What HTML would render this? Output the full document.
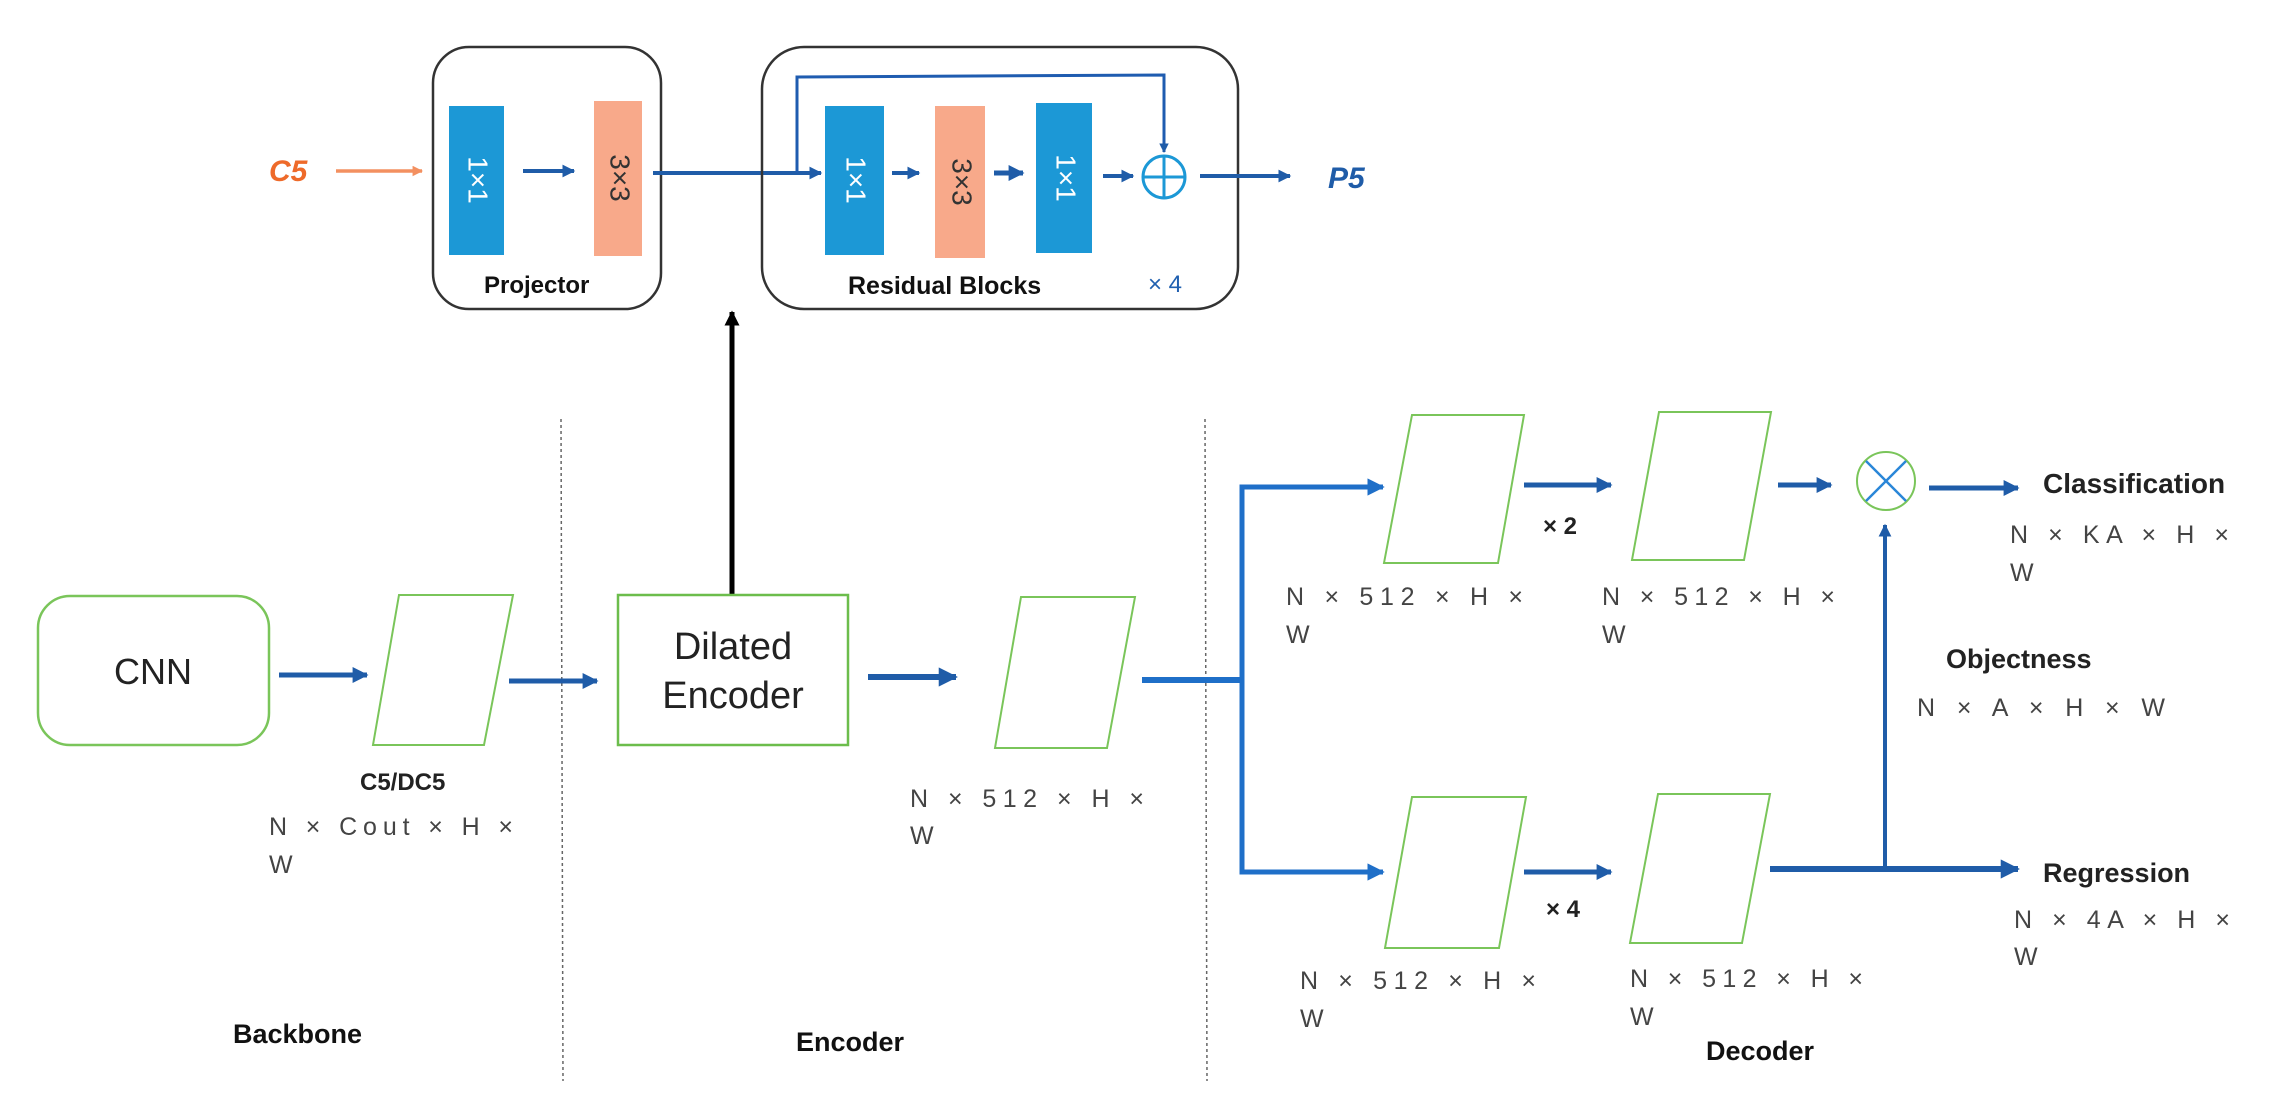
<!DOCTYPE html>
<html><head><meta charset="utf-8"><style>
html,body{margin:0;padding:0;background:#fff;}
svg{display:block;}
text{font-family:"Liberation Sans",sans-serif;}
</style></head><body>
<svg width="2274" height="1104" viewBox="0 0 2274 1104" xmlns="http://www.w3.org/2000/svg">
<defs>
<marker id="ab" viewBox="0 0 10 10" refX="9" refY="5" markerWidth="3.2" markerHeight="3.2" orient="auto" markerUnits="strokeWidth"><path d="M0,0 L10,5 L0,10 z" fill="#1f5ca8"/></marker>
<marker id="ab2" viewBox="0 0 10 10" refX="9" refY="5" markerWidth="3.5" markerHeight="3.5" orient="auto" markerUnits="strokeWidth"><path d="M0,0 L10,5 L0,10 z" fill="#1f6fc8"/></marker>
<marker id="ao" viewBox="0 0 10 10" refX="9" refY="5" markerWidth="3" markerHeight="3" orient="auto" markerUnits="strokeWidth"><path d="M0,0 L10,5 L0,10 z" fill="#f39060"/></marker>
<marker id="ak" viewBox="0 0 10 10" refX="9" refY="5" markerWidth="3" markerHeight="3" orient="auto" markerUnits="strokeWidth"><path d="M0,0 L10,5 L0,10 z" fill="#000"/></marker>
</defs>

<text x="269" y="181" font-size="30" font-weight="bold" font-style="italic" fill="#ee6a2a" font-family="Liberation Serif">C5</text>
<line x1="336" y1="171" x2="422" y2="171" stroke="#f39060" stroke-width="3.5" marker-end="url(#ao)"/>

<rect x="433" y="47" width="228" height="262" rx="36" fill="none" stroke="#333" stroke-width="2.5"/>
<rect x="449" y="106" width="55" height="149" fill="#1c98d6"/>
<text transform="translate(476,180) rotate(90)" text-anchor="middle" dominant-baseline="middle" font-size="28" fill="#fff">1×1</text>
<line x1="523" y1="171" x2="574" y2="171" stroke="#1f5ca8" stroke-width="4" marker-end="url(#ab)"/>
<rect x="594" y="101" width="48" height="155" fill="#f8a98a"/>
<text transform="translate(618,178) rotate(90)" text-anchor="middle" dominant-baseline="middle" font-size="28" fill="#333">3×3</text>
<line x1="653" y1="173" x2="821" y2="173" stroke="#1f5ca8" stroke-width="4" marker-end="url(#ab)"/>
<text x="484" y="293" font-size="24" font-weight="bold" fill="#111">Projector</text>

<rect x="762" y="47" width="476" height="262" rx="42" fill="none" stroke="#333" stroke-width="2.5"/>
<polyline points="797,173 797,77 1164,75 1164,152" fill="none" stroke="#1f5cb0" stroke-width="3" marker-end="url(#ab)"/>
<rect x="825" y="106" width="59" height="149" fill="#1c98d6"/>
<text transform="translate(854,180) rotate(90)" text-anchor="middle" dominant-baseline="middle" font-size="28" fill="#fff">1×1</text>
<line x1="892" y1="173" x2="919" y2="173" stroke="#1f5ca8" stroke-width="4" marker-end="url(#ab)"/>
<rect x="935" y="106" width="50" height="152" fill="#f8a98a"/>
<text transform="translate(960,182) rotate(90)" text-anchor="middle" dominant-baseline="middle" font-size="28" fill="#333">3×3</text>
<line x1="994" y1="173" x2="1023" y2="173" stroke="#1f5ca8" stroke-width="5" marker-end="url(#ab)"/>
<rect x="1036" y="103" width="56" height="150" fill="#1c98d6"/>
<text transform="translate(1064,178) rotate(90)" text-anchor="middle" dominant-baseline="middle" font-size="28" fill="#fff">1×1</text>
<line x1="1103" y1="176" x2="1133" y2="176" stroke="#1f5ca8" stroke-width="4" marker-end="url(#ab)"/>
<circle cx="1164" cy="177" r="21" fill="none" stroke="#1c98d6" stroke-width="3"/>
<line x1="1143" y1="177" x2="1185" y2="177" stroke="#1c98d6" stroke-width="3"/>
<line x1="1164" y1="156" x2="1164" y2="198" stroke="#1c98d6" stroke-width="3"/>
<line x1="1200" y1="176" x2="1290" y2="176" stroke="#1f5ca8" stroke-width="4" marker-end="url(#ab)"/>
<text x="1328" y="188" font-size="30" font-weight="bold" font-style="italic" fill="#1f5ca8" font-family="Liberation Serif">P5</text>
<text x="848" y="294" font-size="25" font-weight="bold" fill="#111">Residual Blocks</text>
<text x="1148" y="292" font-size="24" fill="#2060b0">× 4</text>

<line x1="732" y1="595" x2="732" y2="312" stroke="#000" stroke-width="5" marker-end="url(#ak)"/>

<line x1="561" y1="419" x2="563" y2="1081" stroke="#666" stroke-width="1.5" stroke-dasharray="3,3"/>
<line x1="1205" y1="419" x2="1207" y2="1081" stroke="#666" stroke-width="1.5" stroke-dasharray="3,3"/>

<rect x="38" y="596" width="231" height="149" rx="32" fill="none" stroke="#7ac55a" stroke-width="2.5"/>
<text x="153" y="684" text-anchor="middle" font-size="36" fill="#222">CNN</text>
<line x1="279" y1="675" x2="367" y2="675" stroke="#1f5ca8" stroke-width="5" marker-end="url(#ab)"/>
<polygon points="399,595 513,595 484,745 373,745" fill="none" stroke="#7ac55a" stroke-width="2"/>
<line x1="509" y1="681" x2="597" y2="681" stroke="#1f5ca8" stroke-width="5" marker-end="url(#ab)"/>
<text x="360" y="790" font-size="24" font-weight="bold" fill="#222">C5/DC5</text>
<text x="269" y="835" font-size="25" fill="#444" textLength="244">N × Cout × H ×</text>
<text x="269" y="873" font-size="25" fill="#444">W</text>
<text x="233" y="1043" font-size="27" font-weight="bold" fill="#111">Backbone</text>

<rect x="618" y="595" width="230" height="150" fill="none" stroke="#6cbd4c" stroke-width="2.5"/>
<text x="733" y="659" text-anchor="middle" font-size="38" fill="#222">Dilated</text>
<text x="733" y="708" text-anchor="middle" font-size="38" fill="#222">Encoder</text>
<line x1="868" y1="677" x2="956" y2="677" stroke="#1f5ca8" stroke-width="6" marker-end="url(#ab)"/>
<polygon points="1021,597 1135,597 1107,748 995,748" fill="none" stroke="#7ac55a" stroke-width="2"/>
<text x="910" y="807" font-size="25" fill="#444" textLength="234">N × 512 × H ×</text>
<text x="910" y="844" font-size="25" fill="#444">W</text>
<text x="796" y="1051" font-size="27" font-weight="bold" fill="#111">Encoder</text>

<polyline points="1142,680 1242,680" fill="none" stroke="#1f6fc8" stroke-width="6"/>
<polyline points="1383,487 1242,487 1242,872 1383,872" fill="none" stroke="#1f6fc8" stroke-width="5"/>
<line x1="1340" y1="487" x2="1383" y2="487" stroke="#1f6fc8" stroke-width="5" marker-end="url(#ab2)"/>
<line x1="1340" y1="872" x2="1383" y2="872" stroke="#1f6fc8" stroke-width="5" marker-end="url(#ab2)"/>

<polygon points="1412,415 1524,415 1498,563 1384,563" fill="none" stroke="#7ac55a" stroke-width="2"/>
<line x1="1524" y1="485" x2="1611" y2="485" stroke="#1f5ca8" stroke-width="5" marker-end="url(#ab)"/>
<text x="1543" y="534" font-size="24" font-weight="bold" fill="#222">× 2</text>
<polygon points="1659,412 1771,412 1744,560 1632,560" fill="none" stroke="#7ac55a" stroke-width="2"/>
<line x1="1778" y1="485" x2="1831" y2="485" stroke="#1f5ca8" stroke-width="5" marker-end="url(#ab)"/>
<circle cx="1886" cy="481" r="29" fill="none" stroke="#7ac55a" stroke-width="2"/>
<line x1="1866" y1="461" x2="1906" y2="501" stroke="#2a86d8" stroke-width="2.5"/>
<line x1="1906" y1="461" x2="1866" y2="501" stroke="#2a86d8" stroke-width="2.5"/>
<line x1="1929" y1="488" x2="2018" y2="488" stroke="#1f5ca8" stroke-width="5" marker-end="url(#ab)"/>
<text x="2043" y="493" font-size="28" font-weight="bold" fill="#222">Classification</text>
<text x="2010" y="543" font-size="25" fill="#444" textLength="219">N × KA × H ×</text>
<text x="2010" y="581" font-size="25" fill="#444">W</text>

<text x="1286" y="605" font-size="25" fill="#444" textLength="237">N × 512 × H ×</text>
<text x="1286" y="643" font-size="25" fill="#444">W</text>
<text x="1602" y="605" font-size="25" fill="#444" textLength="233">N × 512 × H ×</text>
<text x="1602" y="643" font-size="25" fill="#444">W</text>

<line x1="1885" y1="869" x2="1885" y2="525" stroke="#1f5ca8" stroke-width="4" marker-end="url(#ab)"/>
<text x="1946" y="668" font-size="27" font-weight="bold" fill="#222">Objectness</text>
<text x="1917" y="716" font-size="25" fill="#444" textLength="248">N × A × H × W</text>

<polygon points="1412,797 1526,797 1499,948 1385,948" fill="none" stroke="#7ac55a" stroke-width="2"/>
<line x1="1524" y1="872" x2="1611" y2="872" stroke="#1f5ca8" stroke-width="5" marker-end="url(#ab)"/>
<text x="1546" y="917" font-size="24" font-weight="bold" fill="#222">× 4</text>
<polygon points="1658,794 1770,794 1742,943 1630,943" fill="none" stroke="#7ac55a" stroke-width="2"/>
<line x1="1770" y1="869" x2="2018" y2="869" stroke="#1f5ca8" stroke-width="6" marker-end="url(#ab)"/>
<text x="2043" y="882" font-size="27" font-weight="bold" fill="#222">Regression</text>
<text x="2014" y="928" font-size="25" fill="#444" textLength="216">N × 4A × H ×</text>
<text x="2014" y="965" font-size="25" fill="#444">W</text>

<text x="1300" y="989" font-size="25" fill="#444" textLength="236">N × 512 × H ×</text>
<text x="1300" y="1027" font-size="25" fill="#444">W</text>
<text x="1630" y="987" font-size="25" fill="#444" textLength="233">N × 512 × H ×</text>
<text x="1630" y="1025" font-size="25" fill="#444">W</text>
<text x="1706" y="1060" font-size="27" font-weight="bold" fill="#111">Decoder</text>
</svg>
</body></html>
